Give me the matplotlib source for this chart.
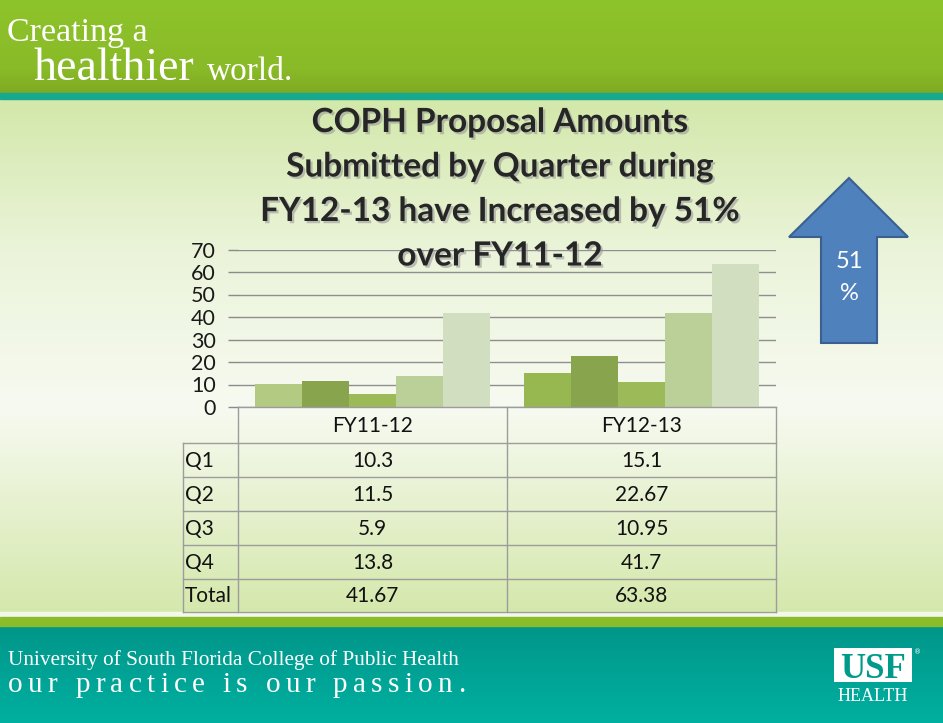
import numpy as np
import matplotlib
matplotlib.use('Agg')
import matplotlib.pyplot as plt
import matplotlib.patheffects as pe
from matplotlib.colors import to_rgb
from matplotlib.patches import Rectangle, Polygon

# ---------------- data ----------------
categories = ['FY11-12', 'FY12-13']
series_names = ['Q1', 'Q2', 'Q3', 'Q4', 'Total']
q1 = [10.3, 15.1]
q2 = [11.5, 22.67]
q3 = [5.9, 10.95]
q4 = [13.8, 41.7]
total = [41.67, 63.38]
y_ticks = [0, 10, 20, 30, 40, 50, 60, 70]
title_lines = ['COPH Proposal Amounts', 'Submitted by Quarter during',
               'FY12-13 have Increased by 51%', 'over FY11-12']
increase_lines = ['51', '%']
header_small = 'Creating a'
header_big = 'healthier'
header_world = 'world.'
footer_line1 = 'University of South Florida College of Public Health'
footer_line2 = 'our practice is our passion.'

series_values = [q1, q2, q3, q4, total]
# colour of each bar: [FY11-12, FY12-13]
series_colors = [['#b3ca83', '#97b751'],
                 ['#88a44c', '#88a44c'],
                 ['#9cba58', '#9cba58'],
                 ['#bbd098', '#bbd098'],
                 ['#d1dec0', '#d1dec0']]

W, H = 943, 723
fig = plt.figure(figsize=(W / 100, H / 100), dpi=100)

# ---------------- background axis (pixel coordinates) ----------------
bg = fig.add_axes([0, 0, 1, 1], zorder=0)
bg.set_xlim(0, W)
bg.set_ylim(H, 0)
bg.axis('off')


def vgrad(ax, x0, x1, y0, y1, stops, colors, z=0):
    n = 256
    t = np.linspace(0, 1, n)
    cols = np.array([to_rgb(c) for c in colors])
    arr = np.stack([np.interp(t, stops, cols[:, k]) for k in range(3)], axis=-1)
    ax.imshow(arr[:, None, :], extent=(x0, x1, y1, y0), aspect='auto',
              interpolation='bilinear', zorder=z)


# header band
vgrad(bg, 0, W, 0, 93, [0, 0.75, 1], ['#8ec42b', '#89ba28', '#7fa923'])
bg.add_patch(Rectangle((0, 93), W, 6, color='#17a890', zorder=1))
# body
vgrad(bg, 0, W, 99, 612, [0, 0.3, 0.6, 1],
      ['#d3e8aa', '#ebf4da', '#f7faf1', '#d5e8ac'])
# bottom stripes
bg.add_patch(Rectangle((0, 612), W, 5, color='#f2f8ea', zorder=1))
bg.add_patch(Rectangle((0, 617), W, 9, color='#8bbd2b', zorder=1))
vgrad(bg, 0, W, 626, H, [0, 1], ['#00968a', '#00b0a0'])
bg.set_xlim(0, W)
bg.set_ylim(H, 0)

# ---------------- chart axis ----------------
ax_left, ax_right, ax_top, ax_bottom = 238, 776, 249.5, 407
ax = fig.add_axes([ax_left / W, 1 - ax_bottom / H, (ax_right - ax_left) / W,
                   (ax_bottom - ax_top) / H], zorder=1)
ax.patch.set_alpha(0)
n_series = len(series_values)
bw = 0.174
x = np.arange(len(categories))
for j, (vals, cols) in enumerate(zip(series_values, series_colors)):
    ax.bar(x + (j - (n_series - 1) / 2) * bw, vals, width=bw, color=cols,
           edgecolor='none', zorder=3)
ax.set_xlim(-0.5, len(categories) - 0.5)
ax.set_ylim(y_ticks[0], y_ticks[-1])
ax.set_yticks(y_ticks)
ax.set_yticklabels([str(v) for v in y_ticks], fontsize=15.5, family='Lato',
                   color='#1a1a1a')
ax.set_xticks([])
ax.tick_params(axis='y', length=7, color='#8a8a8a', width=1, pad=9)
ax.yaxis.grid(True, color='#8f8f8f', linewidth=1)
ax.set_axisbelow(True)
for s in ax.spines.values():
    s.set_visible(False)

# ---------------- overlay axis ----------------
ov = fig.add_axes([0, 0, 1, 1], zorder=2)
ov.set_xlim(0, W)
ov.set_ylim(H, 0)
ov.axis('off')
ov.patch.set_alpha(0)

# title
shadow = [pe.SimplePatchShadow(offset=(1.6, -1.6), shadow_rgbFace='#9a9a9a', alpha=0.6),
          pe.Normal()]
for i, line in enumerate(title_lines):
    ov.text(500, 132 + i * 44.5, line, ha='center', va='baseline', fontsize=24,
            family='Lato', weight='bold', color='#262626', path_effects=shadow)

# data table
line_c = '#9c9c9c'
col_x = [183, 238, 507, 776]
row_y = [407, 443, 477, 511, 545, 579, 612]
for yy in row_y[1:]:
    ov.plot([col_x[0], col_x[-1]], [yy, yy], color=line_c, lw=1)
ov.plot([col_x[1], col_x[-1]], [row_y[0], row_y[0]], color=line_c, lw=1)
ov.plot([col_x[0], col_x[0]], [row_y[1], row_y[-1]], color=line_c, lw=1)
for xx in col_x[1:]:
    ov.plot([xx, xx], [row_y[0], row_y[-1]], color=line_c, lw=1)
tfont = dict(fontsize=15, family='Lato', color='#111111')
for c, cat in enumerate(categories):
    ov.text((col_x[c + 1] + col_x[c + 2]) / 2, (row_y[0] + row_y[1]) / 2 + 1, cat,
            ha='center', va='center', **tfont)
for r, (name, vals) in enumerate(zip(series_names, series_values)):
    yc = (row_y[r + 1] + row_y[r + 2]) / 2 + 1
    ov.text(col_x[0] + 2, yc, name, ha='left', va='center', **tfont)
    for c, v in enumerate(vals):
        ov.text((col_x[c + 1] + col_x[c + 2]) / 2, yc, f'{v:g}', ha='center',
                va='center', **tfont)

# arrow
arrow_pts = [(849, 178), (908, 237), (877, 237), (877, 343), (821, 343),
             (821, 237), (789, 237)]
ov.add_patch(Polygon(arrow_pts, closed=True, facecolor='#4f81bd',
                     edgecolor='#3a6090', lw=1.5))
ov.text(849, 261, increase_lines[0], ha='center', va='center', fontsize=17,
        family='Lato', color='white')
ov.text(849, 293, increase_lines[1], ha='center', va='center', fontsize=17,
        family='Lato', color='white')

# header text
serif = 'Liberation Serif'
ov.text(7, 41, header_small, ha='left', va='baseline', fontsize=24.5, family=serif,
        color='white')
ov.text(34, 80, header_big, ha='left', va='baseline', fontsize=33, family=serif,
        color='white')
ov.text(207, 80, header_world, ha='left', va='baseline', fontsize=24, family=serif,
        color='white')

# footer text
ov.text(8, 665, footer_line1, ha='left', va='baseline', fontsize=15.3,
        family=serif, color='white')

renderer = fig.canvas.get_renderer()


def spaced(x0, x1, y, s, size):
    chars = []
    widths = []
    for ch in s:
        if ch == ' ':
            chars.append(None)
            widths.append(size * 100 / 72 * 0.25)
            continue
        t = ov.text(0, y, ch, ha='left', va='baseline', fontsize=size,
                    family=serif, color='white')
        bb = t.get_window_extent(renderer)
        chars.append(t)
        widths.append(bb.width)
    gap = ((x1 - x0) - sum(widths)) / (len(s) - 1)
    cx = x0
    for t, w in zip(chars, widths):
        if t is not None:
            t.set_x(cx)
        cx += w + gap


spaced(8, 465, 692, footer_line2, 21)

# logo
ov.add_patch(Rectangle((834, 648), 78, 34, facecolor='white', edgecolor='none'))
ov.text(873, 678, 'USF', ha='center', va='baseline', fontsize=25, family=serif,
        weight='bold', color='#009a8a')
ov.text(873, 701, 'HEALTH', ha='center', va='baseline', fontsize=13, family=serif,
        color='white')
ov.text(914, 652, '®', ha='left', va='center', fontsize=5, family='DejaVu Sans',
        color='white')

fig.savefig('out.png', dpi=100)
